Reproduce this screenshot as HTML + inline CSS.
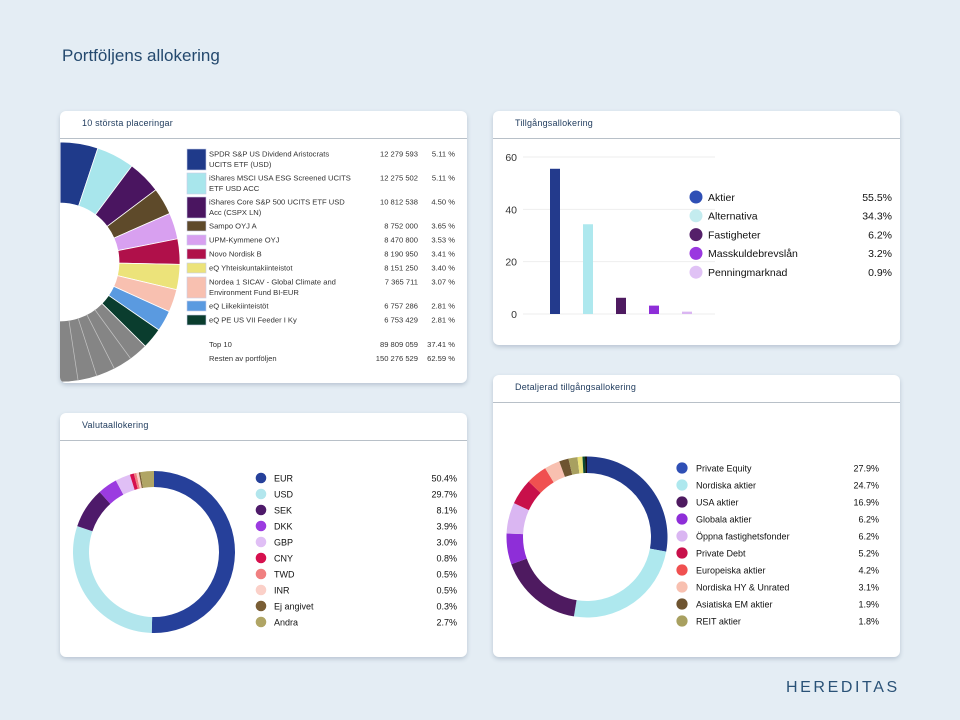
<!DOCTYPE html>
<html><head><meta charset="utf-8">
<style>
html,body{margin:0;padding:0;background:#e4edf4;}
body{width:960px;height:720px;position:relative;overflow:hidden;font-family:"Liberation Sans",sans-serif;}
.panel{position:absolute;background:#fff;border-radius:6px;box-shadow:0 2px 4px rgba(60,80,110,0.25);overflow:hidden;}
.ptitle{position:absolute;left:22px;top:7px;font-size:9px;color:#1e3a5c;letter-spacing:0.2px;}
.hline{position:absolute;left:0;right:0;top:27px;height:1px;background:#b8c0c8;}
svg{position:absolute;left:0;top:0;}
</style></head>
<body>
<div style="position:absolute;left:62px;top:46px;font-size:17px;color:#24496e;">Portföljens allokering</div>
<div style="position:absolute;left:786px;top:679px;font-family:'Liberation Sans',sans-serif;font-size:16px;letter-spacing:2.6px;color:#2a5277;">HEREDITAS</div>

<div class="panel" style="left:60px;top:111px;width:407px;height:272px;">
 <div class="ptitle">10 största placeringar</div>
 <div class="hline"></div>
 <svg id="s1" width="407" height="272"></svg>
</div>
<div class="panel" style="left:493px;top:111px;width:407px;height:234px;">
 <div class="ptitle">Tillgångsallokering</div>
 <div class="hline"></div>
 <svg id="s2" width="407" height="234"></svg>
</div>
<div class="panel" style="left:60px;top:413px;width:407px;height:244px;">
 <div class="ptitle">Valutaallokering</div>
 <div class="hline"></div>
 <svg id="s3" width="407" height="244"></svg>
</div>
<div class="panel" style="left:493px;top:375px;width:407px;height:282px;">
 <div class="ptitle">Detaljerad tillgångsallokering</div>
 <div class="hline"></div>
 <svg id="s4" width="407" height="282"></svg>
</div>

<script>
const holdNames=[["SPDR S&P US Dividend Aristocrats","UCITS ETF (USD)"],["iShares MSCI USA ESG Screened UCITS","ETF USD ACC"],["iShares Core S&P 500 UCITS ETF USD","Acc (CSPX LN)"],["Sampo OYJ A"],["UPM-Kymmene OYJ"],["Novo Nordisk B"],["eQ Yhteiskuntakiinteistot"],["Nordea 1 SICAV - Global Climate and","Environment Fund BI-EUR"],["eQ Liikekiinteistöt"],["eQ PE US VII Feeder I Ky"]];
const holdValues=["12 279 593","12 275 502","10 812 538","8 752 000","8 470 800","8 190 950","8 151 250","7 365 711","6 757 286","6 753 429"];
const holdPct=[5.11,5.11,4.50,3.65,3.53,3.41,3.40,3.07,2.81,2.81];
const restPct=62.59;
const holdColors=["#1f3a8a","#a8e6ec","#4a1560","#5e4a2a","#d8a0f0","#b0104a","#ece37a","#f8c0b0","#5a9ae0","#0a3d2e"];

const assetCats=["Aktier","Alternativa","Fastigheter","Masskuldebrevslån","Penningmarknad"];
const assetVals=[55.5,34.3,6.2,3.2,0.9];
const assetTicks=[0,20,40,60];
const assetColors=["#233a8c","#aee8ee","#4e1a60","#8e2ed8","#dab6f2"];
const assetDot=["#2f4fb5","#c4ecef","#55206a","#9a38e0","#e0c2f5"];

const curCats=["EUR","USD","SEK","DKK","GBP","CNY","TWD","INR","Ej angivet","Andra"];
const curVals=[50.4,29.7,8.1,3.9,3.0,0.8,0.5,0.5,0.3,2.7];
const curColors=["#26409a","#b2e6ed","#4e1a6a","#9b3be0","#e0bff5","#d6104e","#f07f80","#fbd0c8","#7a5e35","#b0a565"];

const detCats=["Private Equity","Nordiska aktier","USA aktier","Globala aktier","Öppna fastighetsfonder","Private Debt","Europeiska aktier","Nordiska HY & Unrated","Asiatiska EM aktier","REIT aktier"];
const detVals=[27.9,24.7,16.9,6.2,6.2,5.2,4.2,3.1,1.9,1.8];
const detOther=[1.0,0.5,0.4];
const detColors=["#233a8c","#aee8ee","#4e1a60","#8e2ed8","#dab6f2","#c8104a","#f05050","#f8c0b0","#6e5430","#a8a060"];
const detOtherColors=["#ece37a","#0a4a30","#111111"];

const NS="http://www.w3.org/2000/svg";
function mk(parent,tag,attrs,text){const e=document.createElementNS(NS,tag);for(const k in attrs)e.setAttribute(k,attrs[k]);if(text!==undefined)e.textContent=text;parent.appendChild(e);return e;}
function arc(cx,cy,r0,r1,a0,a1){const p=(r,a)=>[cx+r*Math.sin(a),cy-r*Math.cos(a)];const L=(a1-a0)>Math.PI?1:0;const [x0,y0]=p(r1,a0),[x1,y1]=p(r1,a1),[x2,y2]=p(r0,a1),[x3,y3]=p(r0,a0);
return `M${x0},${y0}A${r1},${r1} 0 ${L} 1 ${x1},${y1}L${x2},${y2}A${r0},${r0} 0 ${L} 0 ${x3},${y3}Z`;}
function donut(svg,cx,cy,r0,r1,vals,colors,total,stroke){let a=0;const out=[];vals.forEach((v,i)=>{const b=a+v/total*2*Math.PI;const p=mk(svg,'path',{d:arc(cx,cy,r0,r1,a,b),fill:colors[i],stroke:stroke||'none','stroke-width':stroke?0.8:0});out.push(p);a=b;});return out;}

// Panel 1
(function(){const s=document.getElementById('s1');
const vals=holdPct.concat([restPct]);const cols=holdColors.concat(["#858585"]);
const total=vals.reduce((a,b)=>a+b,0);
const ps=donut(s,0,151,59,120,vals,cols,total,"#ffffff");
ps.forEach((p,i)=>{});
const startA=holdPct.reduce((a,b)=>a+b,0)/total*2*Math.PI;
for(let k=1;k<13;k++){const a=startA+k*0.16;const l=mk(s,'line',{x1:59*Math.sin(a),y1:151-59*Math.cos(a),x2:120*Math.sin(a),y2:151-120*Math.cos(a),stroke:'#c4c4c4','stroke-width':0.7});}
let y=38;
holdNames.forEach((n,i)=>{const y0=y;const h=n.length>1?21:10;
 const r=mk(s,'rect',{x:127,y:y0,width:19,height:h,fill:holdColors[i],stroke:'#c8cde8','stroke-width':0.6});
 
 n.forEach((line,j)=>{const t=mk(s,'text',{x:149,y:y0+7.5+j*10.5,'font-size':7.6,fill:'#333'},line);});
 const v=mk(s,'text',{x:358,y:y0+7.5,'font-size':7.6,fill:'#333','text-anchor':'end'},holdValues[i]);
 const pc=mk(s,'text',{x:395,y:y0+7.5,'font-size':7.6,fill:'#333','text-anchor':'end'},holdPct[i].toFixed(2)+' %');
 y+=h+(n.length>1?3:4);
});
[["Top 10","89 809 059","37.41 %",236],["Resten av portföljen","150 276 529","62.59 %",250]].forEach(r=>{
 let t=mk(s,'text',{x:149,y:r[3],'font-size':7.6,fill:'#333'},r[0]);
 t=mk(s,'text',{x:358,y:r[3],'font-size':7.6,fill:'#333','text-anchor':'end'},r[1]);
 t=mk(s,'text',{x:395,y:r[3],'font-size':7.6,fill:'#333','text-anchor':'end'},r[2]);
});
})();

// Panel 2
(function(){const s=document.getElementById('s2');
const y0=203,pxPer=157/60;const yS=v=>y0-v*pxPer;
assetTicks.forEach(t=>{const l=mk(s,'line',{x1:30,x2:222,y1:yS(t),y2:yS(t),stroke:'#eeeeee','stroke-width':1});
 const tx=mk(s,'text',{x:24,y:yS(t)+4,'font-size':10.5,fill:'#333','text-anchor':'end'},String(t));});
assetVals.forEach((v,i)=>{const cx=62+i*33;const r=mk(s,'rect',{x:cx-5,y:yS(v),width:10,height:v*pxPer,fill:assetColors[i]});
 const ly=86+i*18.8;const c=mk(s,'circle',{cx:203,cy:ly,r:6.5,fill:assetDot[i]});
 const t=mk(s,'text',{x:215,y:ly+3.8,'font-size':10.5,fill:'#111'},assetCats[i]);
 const p=mk(s,'text',{x:399,y:ly+3.8,'font-size':10.5,fill:'#111','text-anchor':'end'},v.toFixed(1)+'%');});
})();

// Panel 3
(function(){const s=document.getElementById('s3');
const total=curVals.reduce((a,b)=>a+b,0);
const ps=donut(s,94,139,65,81,curVals,curColors,total);
ps.forEach((p,i)=>{});
curCats.forEach((c,i)=>{const ly=65+i*16;const d=mk(s,'circle',{cx:201,cy:ly,r:5.3,fill:curColors[i]});
 const t=mk(s,'text',{x:214,y:ly+3.3,'font-size':9,fill:'#111'},c);
 const p=mk(s,'text',{x:397,y:ly+3.3,'font-size':9,fill:'#111','text-anchor':'end'},curVals[i].toFixed(1)+'%');});
})();

// Panel 4
(function(){const s=document.getElementById('s4');
const vals=detVals.concat(detOther);const cols=detColors.concat(detOtherColors);
const total=vals.reduce((a,b)=>a+b,0);
const ps=donut(s,94,162,64,80.5,vals,cols,total);
ps.forEach((p,i)=>{});
detCats.forEach((c,i)=>{const ly=93+i*17;const d=mk(s,'circle',{cx:189,cy:ly,r:5.6,fill:i==0?'#2f4fb5':detColors[i]});
 const t=mk(s,'text',{x:203,y:ly+3.3,'font-size':9,fill:'#111'},c);
 const p=mk(s,'text',{x:386,y:ly+3.3,'font-size':9,fill:'#111','text-anchor':'end'},detVals[i].toFixed(1)+'%');});
})();
</script>
</body></html>
